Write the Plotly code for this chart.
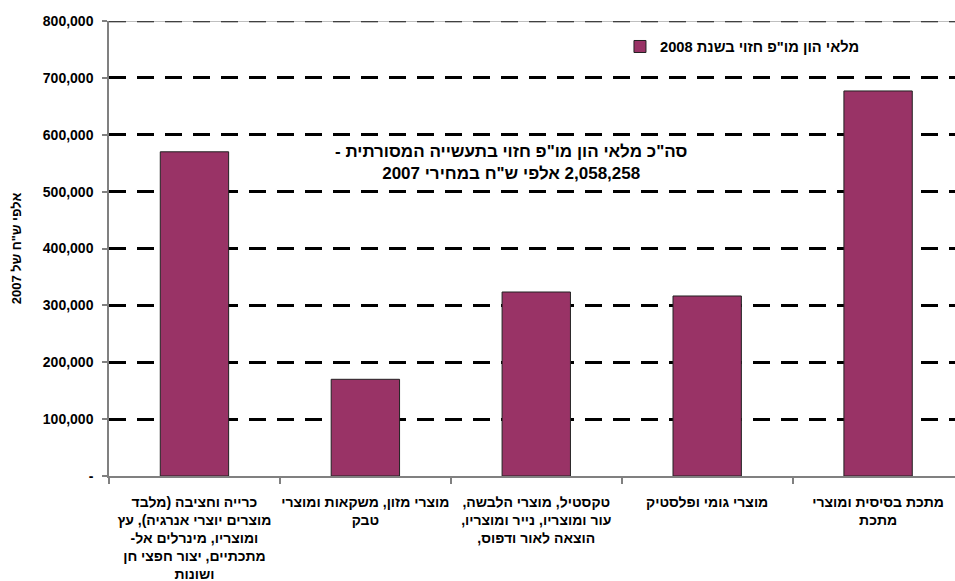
import plotly.graph_objects as go

RLE, PDF = "\u202b", "\u202c"

def rtl(s):
    return "<br>".join(RLE + line + PDF for line in s.split("<br>"))

categories = [
    "כרייה וחציבה (מלבד<br>מוצרים יוצרי אנרגיה), עץ<br>ומוצריו, מינרלים אל-<br>מתכתיים, יצור חפצי חן<br>ושונות",
    "מוצרי מזון, משקאות ומוצרי<br>טבק",
    "טקסטיל, מוצרי הלבשה,<br>עור ומוצריו, נייר ומוצריו,<br>הוצאה לאור ודפוס,",
    "מוצרי גומי ופלסטיק",
    "מתכת בסיסית ומוצרי<br>מתכת",
]
values = [570000, 170000, 323500, 316500, 677000]
series_name = "מלאי הון מו\"פ חזוי בשנת 2008"
y_tickvals = [0, 100000, 200000, 300000, 400000, 500000, 600000, 700000, 800000]
y_ticktext = ["-", "100,000", "200,000", "300,000", "400,000", "500,000", "600,000", "700,000", "800,000"]
y_title = "אלפי ש\"ח של 2007"
note = "סה\"כ מלאי הון מו\"פ חזוי בתעשייה המסורתית -<br>2,058,258 אלפי ש\"ח במחירי 2007"

FONT = "Liberation Sans, Arial, sans-serif"
x_idx = list(range(len(categories)))

fig = go.Figure()
fig.add_trace(go.Bar(
    x=x_idx, y=values, name=rtl(series_name),
    marker=dict(color="#993366", line=dict(color="#222222", width=1)),
))

fig.update_layout(
    width=955, height=581,
    margin=dict(l=109, r=0, t=21, b=105),
    paper_bgcolor="white", plot_bgcolor="white",
    bargap=0.6,
    font=dict(family=FONT, size=14, color="black", weight="bold"),
    showlegend=True,
    legend=dict(x=0.604, y=0.943, xanchor="left", yanchor="middle",
                bgcolor="rgba(0,0,0,0)", font=dict(size=14.7, weight="bold")),
    annotations=[dict(
        text=rtl(note), xref="paper", yref="paper", x=0.475, y=0.69,
        xanchor="center", yanchor="middle",
        showarrow=False, align="center", font=dict(size=17, weight="bold"),
    )],
)

fig.update_xaxes(
    type="linear", range=[-0.5, 4.45],
    tickvals=x_idx, ticktext=[rtl(c) for c in categories],
    showgrid=False, zeroline=False,
    showline=True, linecolor="#808080", linewidth=1.5,
    ticks="", automargin=False, ticklabelstandoff=12,
    tickfont=dict(size=14, weight="bold"),
)
# boundary tick marks between categories
fig.update_xaxes(minor=dict(tickvals=[i - 0.5 for i in x_idx], ticks="outside",
                            ticklen=6, tickcolor="#808080", tickwidth=1.5, showgrid=False))

fig.update_yaxes(
    range=[0, 800000], tickvals=y_tickvals, ticktext=y_ticktext,
    showgrid=True, gridcolor="black", gridwidth=3, griddash="17px,11px",
    zeroline=False, showline=True, linecolor="#808080", linewidth=1.5,
    ticks="outside", ticklen=5, tickcolor="#808080", tickwidth=1.5,
    ticklabelstandoff=6, automargin=False,
    tickfont=dict(size=14, weight="bold"),
    title=dict(text=rtl(y_title), font=dict(size=13, weight="bold"), standoff=18),
)

top = y_tickvals[-1]
fig.add_shape(type="line", xref="paper", yref="y", x0=0, x1=1, y0=top, y1=top,
              line=dict(color="black", width=2.5, dash="17px,11px"), layer="above")
fig.add_shape(type="line", xref="paper", yref="y", x0=0, x1=1, y0=top, y1=top,
              line=dict(color="#808080", width=1), layer="above")

fig.write_html("out.html", config={"displayModeBar": False},
               post_script="document.body.style.margin='0';")
